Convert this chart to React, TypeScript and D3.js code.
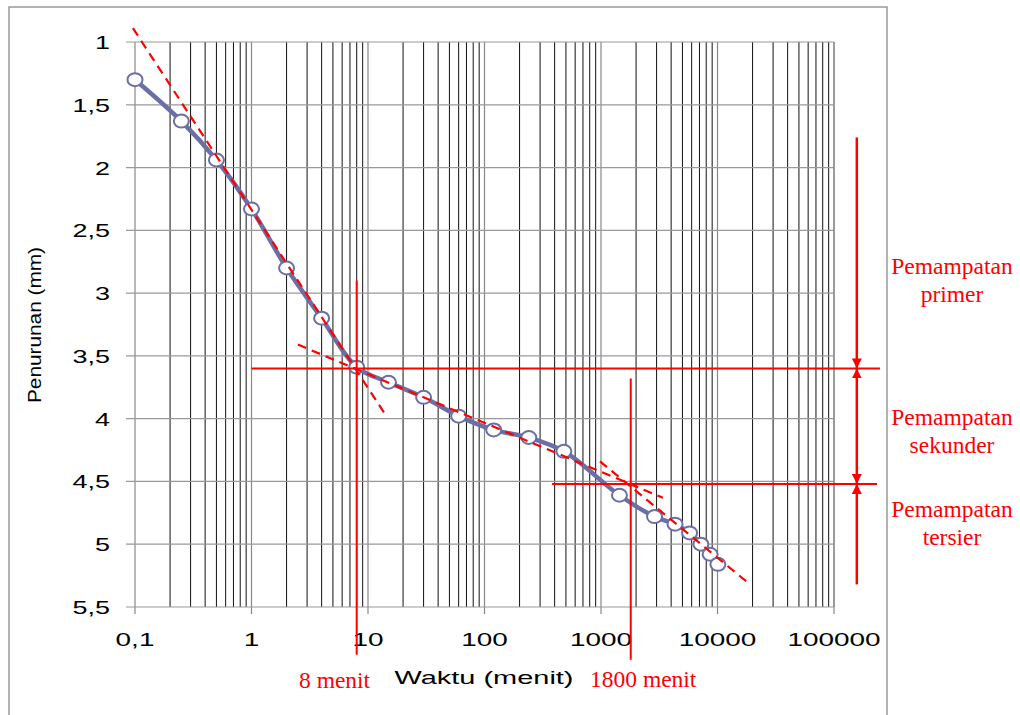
import * as d3 from "d3";

// pengamatan konsolidasi: waktu (menit) vs penurunan (mm)
const times = [0.1, 0.25, 0.5, 1, 2, 4, 8, 15, 30, 60, 120, 240, 480, 1440, 2880, 4320, 5760, 7200, 8640, 10080];
const settlement = [1.3, 1.63, 1.94, 2.33, 2.8, 3.2, 3.59, 3.71, 3.83, 3.98, 4.09, 4.15, 4.26, 4.61, 4.78, 4.84, 4.91, 5.0, 5.08, 5.16];

const xTicks = [0.1, 1, 10, 100, 1000, 10000, 100000];
const xTickLabels = ["0,1", "1", "10", "100", "1000", "10000", "100000"];
const yTicks = [1, 1.5, 2, 2.5, 3, 3.5, 4, 4.5, 5, 5.5];
const yTickLabels = ["1", "1,5", "2", "2,5", "3", "3,5", "4", "4,5", "5", "5,5"];

// garis singgung (putus-putus)
const tangents: [number, number][][] = [
  [[0.096, 0.89], [13.7, 3.95]],
  [[2.5, 3.41], [3400, 4.63]],
  [[980, 4.34], [19000, 5.32]],
];

// garis bantu merah
const hGuides = [
  { v: 3.6, t0: 1, t1: 248000 },
  { v: 4.52, t0: 380, t1: 234000 },
];
const vGuides = [
  { t: 8, v0: 2.9, v1: 5.88, label: "8 menit" },
  { t: 1800, v0: 3.68, v1: 5.92, label: "1800 menit" },
];

const arrowT = 157000;
const arrowSegs = [
  { v0: 1.76, v1: 3.6, start: false, end: true },
  { v0: 3.6, v1: 4.52, start: true, end: true },
  { v0: 4.52, v1: 5.32, start: true, end: false },
];
const phaseLabels = [
  { v: 2.85, lines: ["Pemampatan", "primer"] },
  { v: 4.05, lines: ["Pemampatan", "sekunder"] },
  { v: 4.78, lines: ["Pemampatan", "tersier"] },
];

const W = 1020;
const H = 715;
const left = 135;
const right = 834;
const top = 42;
const bottom = 607;

const x = d3.scaleLog().domain([0.1, 100000]).range([left, right]);
const y = d3.scaleLinear().domain([1, 5.5]).range([top, bottom]);

const minorTicks: number[] = [];
for (let e = -1; e < 5; e++) {
  for (let k = 2; k <= 9; k++) minorTicks.push(k * Math.pow(10, e));
}

const blue = "#6b6fa6";
const red = "#ff0000";
const sans = "Arial, 'Liberation Sans', sans-serif";
const serif = "'Times New Roman', 'Liberation Serif', serif";

export default function App() {
  const pts = times.map((t, i) => [x(t), y(settlement[i])] as [number, number]);
  const curve = d3.line().curve(d3.curveCatmullRom.alpha(0.5))(pts) || "";

  return (
    <svg width={W} height={H} style={{ position: "absolute", left: 0, top: 0, background: "#fff" }}>
      <defs>
        <marker id="ah" viewBox="0 0 10 10" refX="10" refY="5" markerWidth="10" markerHeight="10"
          markerUnits="userSpaceOnUse" orient="auto-start-reverse">
          <path d="M0,0 L10,5 L0,10 z" fill={red} />
        </marker>
      </defs>
      <rect x={9} y={7} width={878} height={720} fill="none" stroke="#9a9a9a" strokeWidth={1.5} />

      {/* grid */}
      {minorTicks.map((t, i) => (
        <line key={"m" + i} x1={x(t)} x2={x(t)} y1={top} y2={bottom} stroke="#111" strokeWidth={1} />
      ))}
      {xTicks.map((t, i) => (
        <line key={"M" + i} x1={x(t)} x2={x(t)} y1={top} y2={bottom + 7} stroke="#888" strokeWidth={1.2} />
      ))}
      {yTicks.map((v, i) => (
        <line key={"h" + i} x1={left - 9} x2={right} y1={y(v)} y2={y(v)} stroke="#999" strokeWidth={1.2} />
      ))}
      <line x1={right} x2={right} y1={top} y2={bottom} stroke="#888" strokeWidth={1.2} />

      {/* tick labels */}
      {yTicks.map((v, i) => (
        <text key={"yl" + i} transform={`translate(110,${y(v) + 7}) scale(1.42,1)`} textAnchor="end"
          fontFamily={sans} fontSize={19} fill="#000">{yTickLabels[i]}</text>
      ))}
      {xTicks.map((t, i) => (
        <text key={"xl" + i} transform={`translate(${x(t)},646) scale(1.47,1)`} textAnchor="middle"
          fontFamily={sans} fontSize={19} fill="#000">{xTickLabels[i]}</text>
      ))}
      <text x={484} y={684} textAnchor="middle" fontFamily={sans} fontSize={18.5}
        textLength={179} lengthAdjust="spacingAndGlyphs">Waktu (menit)</text>
      <text transform="translate(41,325) rotate(-90)" textAnchor="middle" fontFamily={sans} fontSize={19}
        textLength={156} lengthAdjust="spacingAndGlyphs">Penurunan (mm)</text>

      {/* data */}
      <path d={curve} fill="none" stroke={blue} strokeWidth={4.5} strokeLinejoin="round" />
      {pts.map((p, i) => (
        <ellipse key={"p" + i} cx={p[0]} cy={p[1]} rx={7.5} ry={6.5} fill="#fff" stroke={blue} strokeWidth={2} />
      ))}

      {/* red annotations */}
      {tangents.map((seg, i) => (
        <line key={"tg" + i} x1={x(seg[0][0])} y1={y(seg[0][1])} x2={x(seg[1][0])} y2={y(seg[1][1])}
          stroke={red} strokeWidth={2.2} strokeDasharray="9,6" />
      ))}
      {hGuides.map((g, i) => (
        <line key={"hg" + i} x1={x(g.t0)} x2={x(g.t1)} y1={y(g.v)} y2={y(g.v)} stroke={red} strokeWidth={2} />
      ))}
      {vGuides.map((g, i) => (
        <line key={"vg" + i} x1={x(g.t)} x2={x(g.t)} y1={y(g.v0)} y2={y(g.v1)} stroke={red} strokeWidth={2} />
      ))}
      <text x={299} y={688} fontFamily={serif} fontSize={23.5} fill={red}>{vGuides[0].label}</text>
      <text x={590} y={687} fontFamily={serif} fontSize={23.5} fill={red}>{vGuides[1].label}</text>

      {arrowSegs.map((s, i) => (
        <line key={"ar" + i} x1={x(arrowT)} x2={x(arrowT)} y1={y(s.v0)} y2={y(s.v1)} stroke={red} strokeWidth={2.5}
          markerStart={s.start ? "url(#ah)" : undefined} markerEnd={s.end ? "url(#ah)" : undefined} />
      ))}
      {phaseLabels.map((p, i) => (
        <text key={"pl" + i} textAnchor="middle" fontFamily={serif} fontSize={23.5} fill={red}>
          {p.lines.map((l, j) => (
            <tspan key={j} x={952} y={y(p.v) + j * 28}>{l}</tspan>
          ))}
        </text>
      ))}
    </svg>
  );
}
